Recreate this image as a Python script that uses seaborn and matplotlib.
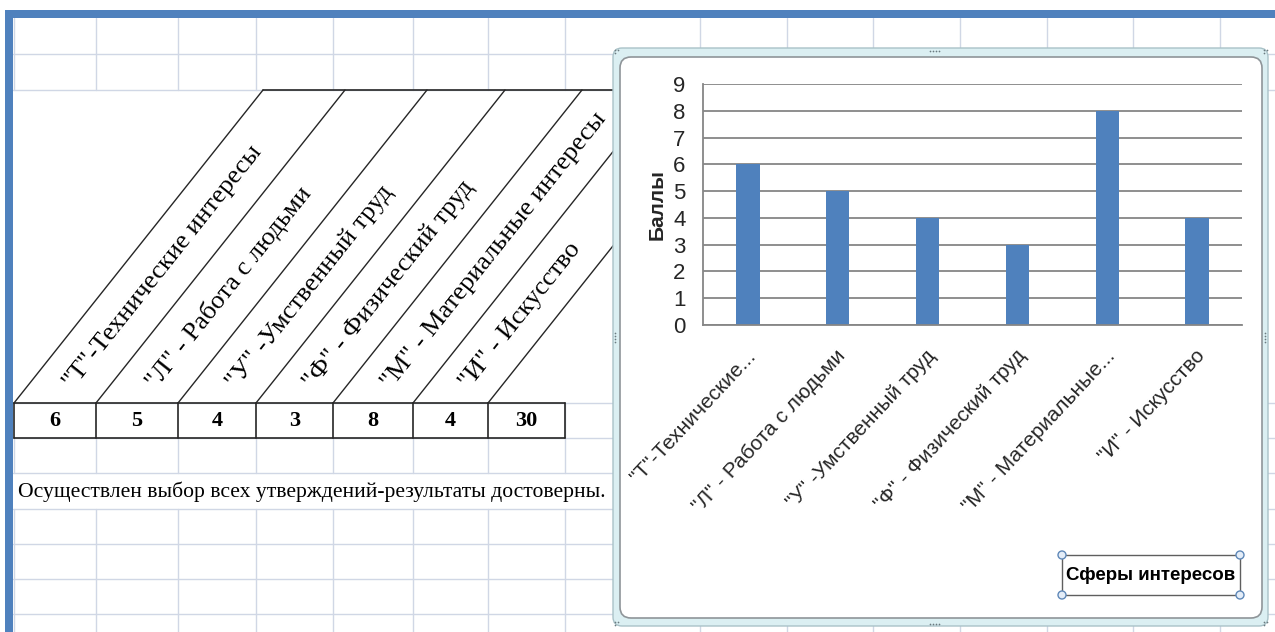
import math
import matplotlib
matplotlib.use("Agg")
import matplotlib.pyplot as plt
import matplotlib.transforms as mtransforms
import seaborn as sns
from matplotlib.patches import Rectangle, FancyBboxPatch, Circle

# ---- data -----------------------------------------------------------------
interests = ['"Т"-Технические интересы', '"Л" - Работа с людьми',
             '"У" -Умственный труд', '"Ф" - Физический труд',
             '"М" - Материальные интересы', '"И" - Искусство']
chart_labels = ['"Т"-Технические...', '"Л" - Работа с людьми',
                '"У" -Умственный труд', '"Ф" - Физический труд',
                '"М" - Материальные...', '"И" - Искусство']
scores = [6, 5, 4, 3, 8, 4]
y_ticks = [0, 1, 2, 3, 4, 5, 6, 7, 8, 9]
note = "Осуществлен выбор всех утверждений-результаты достоверны."
y_title = "Баллы"
x_title = "Сферы интересов"

# ---- styling ----------------------------------------------------------------
sns.set_style("white")
SERIF = ["Liberation Serif", "DejaVu Serif"]
SANS = ["Liberation Sans", "DejaVu Sans"]
plt.rcParams["font.family"] = SANS

BLUE = "#4f81bd"
GRID = "#d0d7e5"
INK = "#262626"
AXIS_GRAY = "#868686"

W, H = 1275, 632
fig = plt.figure(figsize=(W / 100, H / 100), dpi=100)

# sheet canvas in pixel units
bg = fig.add_axes([0, 0, 1, 1])
bg.set_xlim(0, W)
bg.set_ylim(H, 0)
bg.axis("off")

col_x = [14, 96, 178, 256, 333, 413, 488, 565, 700, 787, 873, 960, 1047, 1133, 1220]
row_y = [54, 90, 403, 438, 473, 509, 544, 579, 614]

# worksheet gridlines
for y in row_y:
    bg.plot([13, W], [y, y], color=GRID, lw=1, zorder=1)
for x in col_x:
    if x > 613:
        bg.plot([x, x], [18, H], color=GRID, lw=1, zorder=1)
    else:
        for y0, y1 in [(18, 90), (438, 473), (509, H)]:
            bg.plot([x, x], [y0, y1], color=GRID, lw=1, zorder=1)
        if x == 565:
            bg.plot([x, x], [403, 438], color=GRID, lw=1, zorder=1)

# window frame strips
bg.add_patch(Rectangle((5, 10), W - 5, 8, color=BLUE, lw=0, zorder=3))
bg.add_patch(Rectangle((5, 10), 8, H - 10, color=BLUE, lw=0, zorder=3))

# ---- table with slanted header -------------------------------------------
top, hdr_bottom, val_bottom = 90, 403, 438
dx_diag = 249
angle = math.degrees(math.atan2(hdr_bottom - top, dx_diag))
ux = math.cos(math.radians(angle))
uy = math.sin(math.radians(angle))

for xb in col_x[:7]:
    bg.plot([xb, xb + dx_diag], [hdr_bottom, top], color=INK, lw=1, zorder=2)
bg.plot([col_x[0] + dx_diag, 640], [top, top], color=INK, lw=1.2, zorder=2)
for y in (hdr_bottom, val_bottom):
    bg.plot([col_x[0], col_x[7]], [y, y], color=INK, lw=1.2, zorder=2)
for xb in col_x[:8]:
    bg.plot([xb, xb], [hdr_bottom, val_bottom], color=INK, lw=1.2, zorder=2)

for i, name in enumerate(interests):
    cx = (col_x[i] + col_x[i + 1]) / 2
    d = 22
    bg.text(cx + d * ux, hdr_bottom - d * uy, name, rotation=angle,
            rotation_mode="anchor", ha="left", va="center",
            family=SERIF, fontsize=19, color="black", zorder=2)

row_values = scores + [sum(scores)]
for i, v in enumerate(row_values):
    cx = (col_x[i] + col_x[i + 1]) / 2
    bg.text(cx, (hdr_bottom + val_bottom) / 2 + 1, str(v), ha="center",
            va="center", family=SERIF, fontsize=16, fontweight="bold",
            color="black", zorder=2)

bg.text(18, 492, note, ha="left", va="center", family=SERIF, fontsize=15.6,
        color="black", zorder=2)

# ---- embedded chart frame ------------------------------------------------
bg.add_patch(FancyBboxPatch((613, 48), 655, 578,
                            boxstyle="round,pad=0,rounding_size=9",
                            fc="#dbeff2", ec="#a9c2c8", lw=1, zorder=5))
bg.add_patch(FancyBboxPatch((620, 57), 642, 561,
                            boxstyle="round,pad=0,rounding_size=11",
                            fc="white", ec="#8f9599", lw=1.2, zorder=6))

dots = []
for cxh, cyh in [(615, 50), (1264, 50), (615, 622), (1264, 622)]:
    dots += [(cxh, cyh), (cxh + 3, cyh), (cxh, cyh + 3)]
for k in range(4):
    dots += [(930 + 3 * k, 51), (930 + 3 * k, 624)]
    dots += [(615, 333 + 3 * k), (1265, 333 + 3 * k)]
bg.scatter([p[0] for p in dots], [p[1] for p in dots], s=1.5,
           color="#6b7b80", lw=0, zorder=7)

# axis title box (selected)
bx0, by0, bx1, by1 = 1062, 555, 1240, 595
bg.add_patch(Rectangle((bx0, by0), bx1 - bx0, by1 - by0, fill=False,
                       ec="#5f5f5f", lw=1, zorder=7))
for px, py in [(bx0, by0), (bx1, by0), (bx0, by1), (bx1, by1)]:
    bg.add_patch(Circle((px, py), 4, fc="#e4edf8", ec="#5f88b8", lw=1, zorder=8))
bg.text((bx0 + bx1) / 2, (by0 + by1) / 2 + 1, x_title, ha="center",
        va="center", family=SANS, fontsize=13.5, fontweight="bold",
        color="black", zorder=8)

# ---- bar chart -------------------------------------------------------------
px0, px1, py0, py1 = 703, 1242, 84, 325
ax = fig.add_axes([px0 / W, 1 - py1 / H, (px1 - px0) / W, (py1 - py0) / H])
ax.set_zorder(10)
ax.patch.set_alpha(0)

sns.barplot(x=chart_labels, y=scores, ax=ax, color=BLUE, saturation=1,
            width=0.26, linewidth=0)

ax.set_ylim(0, 9)
ax.set_yticks(y_ticks)
ax.yaxis.grid(True, color=AXIS_GRAY, lw=1.3)
ax.set_axisbelow(True)
for side in ("top", "right"):
    ax.spines[side].set_visible(False)
for side in ("left", "bottom"):
    ax.spines[side].set_color(AXIS_GRAY)
    ax.spines[side].set_linewidth(1.3)

ax.tick_params(axis="y", direction="out", length=4.5, width=1.3,
               color=AXIS_GRAY, pad=8, labelsize=16)
ax.tick_params(axis="x", length=0, pad=20)

ax.set_xticks(range(len(chart_labels)))
ax.set_xticklabels(chart_labels, rotation=47, ha="right", va="center",
                   rotation_mode="anchor", fontsize=15)
shift = mtransforms.ScaledTranslation(5 / 100, 0, fig.dpi_scale_trans)
for lbl in ax.get_xticklabels():
    lbl.set_transform(lbl.get_transform() + shift)

ax.set_xlabel("")
ax.set_ylabel(y_title, fontsize=15, fontweight="bold")
ax.yaxis.set_label_coords(-0.068, 0.5)

fig.savefig("out.png", dpi=100)
